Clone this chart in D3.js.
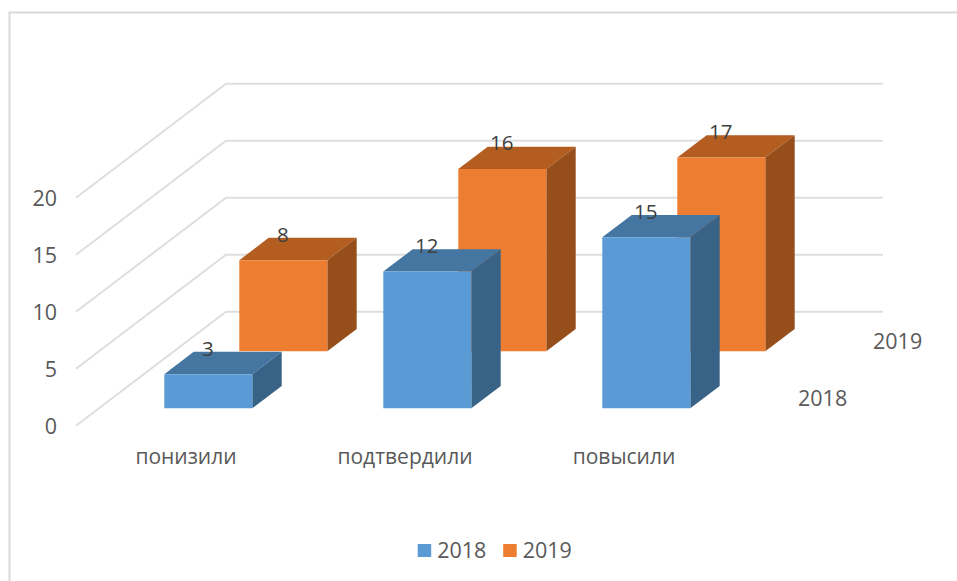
<!DOCTYPE html>
<meta charset="utf-8">
<style>
html, body { margin: 0; padding: 0; background: #fff; overflow: hidden; }
svg { display: block; }
text { font-family: "Open Sans", sans-serif; fill: #595959; }
.grid { fill: none; stroke: #dedede; stroke-width: 2; }
.frame { fill: none; stroke: #d9d9d9; stroke-width: 2; }
.tick { font-size: 21.5px; }
.value { font-size: 20.5px; fill: #404040; text-anchor: middle; }
</style>
<body>
<script src="https://d3js.org/d3.v7.min.js"></script>
<svg width="957" height="581"></svg>
<script>

var categories = ["понизили", "подтвердили", "повысили"];
var seriesNames = ["2018", "2019"];
var values2018 = [3, 12, 15];
var values2019 = [8, 16, 17];
var yTicks = [0, 5, 10, 15, 20];

var seriesColors = {
  "2018": {front: "#5b9bd5", top: "#4575a1", side: "#386286"},
  "2019": {front: "#ed7d31", top: "#b35d21", side: "#964e1a"}
};

var svg = d3.select("svg");

// floor of the box: front left corner, and how far the back wall is shifted
var origin = {x: 76, y: 425.7},
    depthShift = {x: 150, y: -114},
    barWidth = 88,
    barDepth = 0.196;

var x = d3.scaleBand().domain(categories).range([0, 657]),
    y = d3.scaleLinear().domain([0, 20]).range([0, -228]),
    z = d3.scaleBand().domain(seriesNames).range([0, 1]);

// x along the floor, value up the wall, depth 0 (front) .. 1 (back)
function project(px, value, depth) {
  return [
    origin.x + px + depthShift.x * depth,
    origin.y + y(value) + depthShift.y * depth
  ];
}

var line = d3.line();

// frame
svg.append("path")
    .attr("class", "frame")
    .attr("d", "M9.5,581V12.5H957");

// gridlines on side wall and back wall
svg.append("g").selectAll("path")
  .data(yTicks)
  .enter().append("path")
    .attr("class", "grid")
    .attr("d", function(d) {
      return line([project(0, d, 0), project(0, d, 1), project(657, d, 1)]);
    });

svg.append("g").selectAll("text")
  .data(yTicks)
  .enter().append("text")
    .attr("class", "tick")
    .attr("x", 57)
    .attr("y", function(d) { return project(0, d, 0)[1] + 1; })
    .attr("dy", "0.36em")
    .attr("text-anchor", "end")
    .text(function(d) { return d; });

var bars = [];
categories.forEach(function(c, i) {
  bars.push({category: c, series: "2019", value: values2019[i]});
});
categories.forEach(function(c, i) {
  bars.push({category: c, series: "2018", value: values2018[i]});
});

function barLeft(d) { return x(d.category) + (x.bandwidth() - barWidth) / 2; }
function barFront(d) { return z(d.series) + z.bandwidth() / 2 - barDepth / 2; }

var bar = svg.append("g").selectAll("g")
  .data(bars)
  .enter().append("g");

bar.append("path")
    .attr("fill", function(d) { return seriesColors[d.series].top; })
    .attr("d", function(d) {
      var l = barLeft(d), f = barFront(d), b = f + barDepth;
      return line([project(l, d.value, f), project(l + barWidth, d.value, f),
                   project(l + barWidth, d.value, b), project(l, d.value, b)]) + "Z";
    });

bar.append("path")
    .attr("fill", function(d) { return seriesColors[d.series].side; })
    .attr("d", function(d) {
      var r = barLeft(d) + barWidth, f = barFront(d), b = f + barDepth;
      return line([project(r, 0, f), project(r, d.value, f),
                   project(r, d.value, b), project(r, 0, b)]) + "Z";
    });

bar.append("path")
    .attr("fill", function(d) { return seriesColors[d.series].front; })
    .attr("d", function(d) {
      var l = barLeft(d), f = barFront(d);
      return line([project(l, 0, f), project(l + barWidth, 0, f),
                   project(l + barWidth, d.value, f), project(l, d.value, f)]) + "Z";
    });

// value labels
svg.append("g").selectAll("text")
  .data(bars)
  .enter().append("text")
    .attr("class", "value")
    .attr("x", function(d) { return project(barLeft(d) + barWidth / 2, d.value, barFront(d))[0] - 0.5; })
    .attr("y", function(d) { return project(barLeft(d) + barWidth / 2, d.value, barFront(d))[1] - 18.5; })
    .text(function(d) { return d.value; });

// category labels
svg.append("g").selectAll("text")
  .data(categories)
  .enter().append("text")
    .attr("class", "tick")
    .attr("x", function(d) { return project(x(d) + x.bandwidth() / 2, 0, 0)[0] + 0.5; })
    .attr("y", origin.y + 38.5)
    .attr("text-anchor", "middle")
    .style("font-size", "21px")
    .text(function(d) { return d; });

// depth axis labels
svg.append("g").selectAll("text")
  .data(seriesNames)
  .enter().append("text")
    .attr("class", "tick")
    .attr("x", function(d) { return project(657, 0, z(d) + z.bandwidth() / 2)[0] + 27.5; })
    .attr("y", function(d) { return project(657, 0, z(d) + z.bandwidth() / 2)[1] + 1.5; })
    .attr("dy", "0.36em")
    .text(function(d) { return d; });

// legend
var legendX = d3.scaleOrdinal().domain(seriesNames).range([417.7, 503.2]);

var legend = svg.append("g").selectAll("g")
  .data(seriesNames)
  .enter().append("g")
    .attr("transform", function(d) { return "translate(" + legendX(d) + ",544)"; });

legend.append("rect")
    .attr("width", 13.5)
    .attr("height", 13)
    .attr("fill", function(d) { return seriesColors[d].front; });

legend.append("text")
    .attr("class", "tick")
    .attr("x", 19.5)
    .attr("y", 13.5)
    .text(function(d) { return d; });

</script>
</body>
